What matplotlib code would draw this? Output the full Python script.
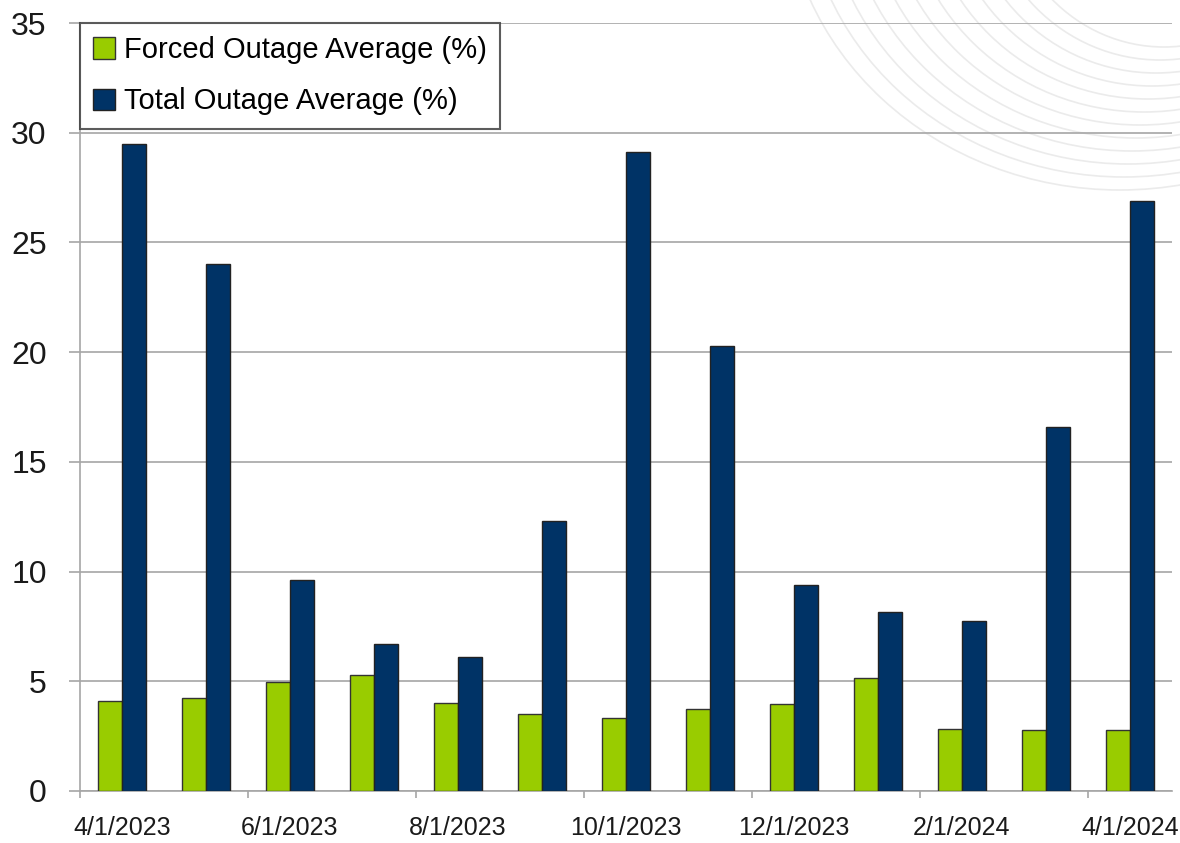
import matplotlib
matplotlib.use("Agg")
import matplotlib.pyplot as plt
import numpy as np
from matplotlib.patches import Arc

plt.rcParams["font.family"] = ["Liberation Sans", "DejaVu Sans"]

months = ["4/1/2023", "5/1/2023", "6/1/2023", "7/1/2023", "8/1/2023", "9/1/2023",
          "10/1/2023", "11/1/2023", "12/1/2023", "1/1/2024", "2/1/2024", "3/1/2024",
          "4/1/2024"]
forced = [4.12, 4.24, 4.95, 5.30, 4.02, 3.52, 3.34, 3.72, 3.98, 5.16, 2.83, 2.77, 2.77]
total = [29.5, 24.0, 9.6, 6.7, 6.1, 12.3, 29.1, 20.3, 9.4, 8.15, 7.75, 16.6, 26.9]

green = "#99cc00"
navy = "#003366"
grid_c = "#a6a6a6"
text_c = "#1a1a1a"

fig = plt.figure(figsize=(11.8, 8.43), dpi=100)

# faint decorative swooshes in the top-right background
bg = fig.add_axes([0, 0, 1, 1], zorder=0)
bg.set_xlim(0, 1180)
bg.set_ylim(843, 0)
bg.axis("off")
for k in range(12):
    b = 310 - k * 13
    a = 336 - k * 16
    bg.add_patch(Arc((1120 + k * 4, -120), 2 * a, 2 * b, theta1=0, theta2=180,
                     color="#ebebeb", lw=1.2))

ax = fig.add_axes([0.0678, 0.0617, 0.9254, 0.911], zorder=1)
ax.patch.set_alpha(0)

x = np.arange(len(months))
w = 0.29
ax.bar(x - w / 2, forced, w, color=green, edgecolor="#333333", linewidth=1,
       label="Forced Outage Average (%)", zorder=3)
ax.bar(x + w / 2, total, w, color=navy, edgecolor="#222222", linewidth=1,
       label="Total Outage Average (%)", zorder=3)

ax.set_xlim(-0.5, len(months) - 0.5)
ax.set_ylim(0, 35)
ax.set_yticks(np.arange(0, 36, 5))
ax.yaxis.grid(True, color=grid_c, linewidth=1.2, zorder=0)

ax.set_xticks(x[::2])
ax.set_xticklabels(months[::2], fontsize=18, color=text_c)
ax.set_xticks(np.arange(-0.5, len(months) - 1, 2), minor=True)
ax.tick_params(axis="x", which="major", length=0, pad=18)
ax.tick_params(axis="x", which="minor", length=5, color=grid_c, width=1.2)
ax.tick_params(axis="y", length=8, color=grid_c, width=1.2, labelsize=23,
               labelcolor=text_c, pad=16)

for s in ["top", "right"]:
    ax.spines[s].set_visible(False)
for s in ["left", "bottom"]:
    ax.spines[s].set_color(grid_c)
    ax.spines[s].set_linewidth(1.2)

leg = ax.legend(loc="upper left", bbox_to_anchor=(0.0, 1.0), fontsize=21,
                frameon=True, fancybox=False, edgecolor="#333333",
                handlelength=0.75, handleheight=0.75, handletextpad=0.3,
                borderpad=0.45, labelspacing=0.8, borderaxespad=0)
leg.get_frame().set_linewidth(1.5)

fig.savefig("out.png", dpi=100)
